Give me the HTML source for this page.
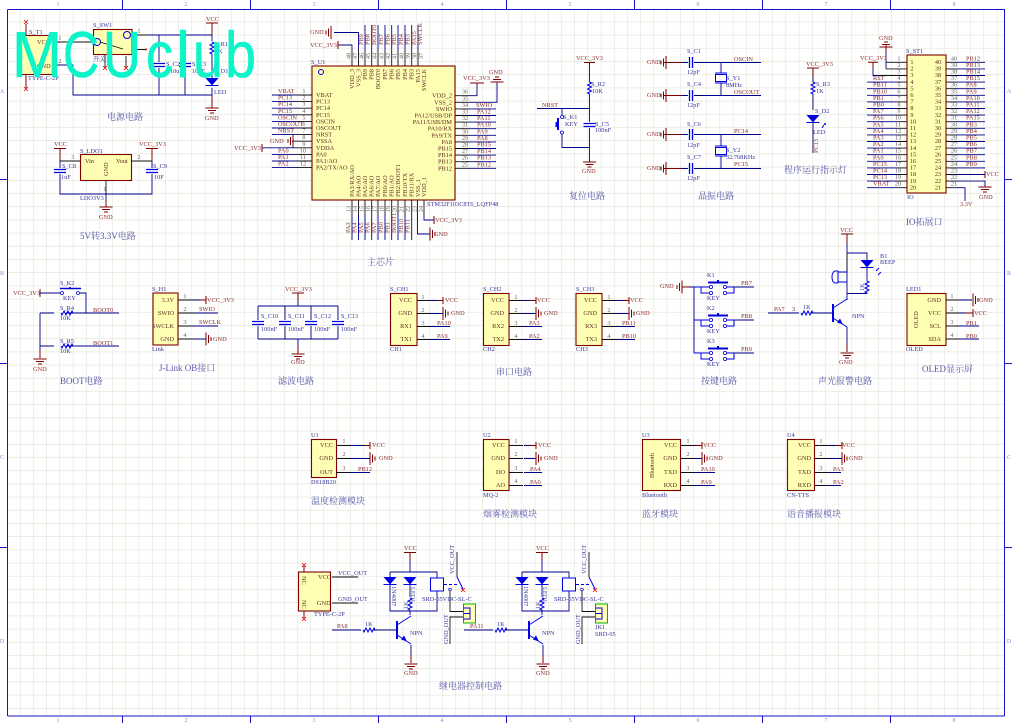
<!DOCTYPE html>
<html><head><meta charset="utf-8"><title>MCUclub schematic</title>
<style>
html,body{margin:0;padding:0;background:#fff}
svg{display:block;filter:blur(.3px)}
text{font-family:"Liberation Serif","Noto Serif CJK SC",serif;font-size:6.3px}
.n text,text.n{fill:#8a2c2c}
.d text,text.d{fill:#38389a}
.k text,text.k{fill:#5c2a20}
.u text{fill:#666;text-anchor:middle}
.t text{fill:#5656a8;font-size:9px}
.f text{fill:#8a8ad0;font-size:6px;text-anchor:middle}
.w{fill:none;stroke:#00008c;stroke-width:.9}
.p{fill:none;stroke:#111;stroke-width:.9}
.r{fill:none;stroke:#800000;stroke-width:1}
.b{fill:none;stroke:#0000e6;stroke-width:1}
.box{fill:#ffffb4;stroke:#800000;stroke-width:1.1}
</style></head><body>
<svg width="1012" height="723" viewBox="0 0 1012 723" xmlns="http://www.w3.org/2000/svg">
<defs>
<pattern id="g" x="7.3" y="9" width="13.2" height="13.2" patternUnits="userSpaceOnUse"><path d="M13.2 0V13.2M0 13.2H13.2" fill="none" stroke="#e2e2d6" stroke-width="1.1"/></pattern>
<path id="gd" class="r" d="M-6.5 0H6.5M-4 2.5H4M-2 5H2"/>
<path id="gu" class="r" d="M-6.5 0H6.5M-4 -2.5H4M-2 -5H2"/>
<path id="gl" class="r" d="M0 -6.5V6.5M-2.5 -4V4M-5 -2V2"/>
<path id="gr" class="r" d="M0 -6.5V6.5M2.5 -4V4M5 -2V2"/>
<path id="cv" class="b" style="stroke-width:1.3" d="M-6 -1.5H6M-6 1.5H6"/>
<path id="ch" class="b" style="stroke-width:1.3" d="M-1.5 -5.5V5.5M1.5 -5.5V5.5"/>
<path id="rv" class="b" d="M0 -6l2 1-4 2 4 2-4 2 4 2-4 2 2 1"/>
<path id="rh" class="b" d="M-6 0l1 2 2-4 2 4 2-4 2 4 2-4 1 2"/>
<g id="dd"><path d="M-6.5 0H6.5L0 7.5Z" fill="#0000e6"/><path class="b" d="M-6.5 7.5H6.5"/></g>
<g id="xt"><path class="b" d="M-5.5 -3.5H5.5V3.5H-5.5ZM-6 -5H6M-6 5H6"/></g>
<g id="npn"><path class="b" style="stroke-width:2" d="M0 -9V9"/><path class="b" d="M0 -5L14 -14M0 5L14 14"/><path d="M10 11.5L4 9.5 7 5.5Z" fill="#0000e6"/></g>
<g id="key"><path class="b" d="M0 0H17M7 0V6H17M31 0H40V6H31M40 0V6"/><path class="w" d="M40 0H60"/><circle cx="17" cy="0" r="1.6" fill="#fff" stroke="#00c" stroke-width=".8"/><circle cx="17" cy="6" r="1.6" fill="#fff" stroke="#00c" stroke-width=".8"/><circle cx="31" cy="0" r="1.6" fill="#fff" stroke="#00c" stroke-width=".8"/><circle cx="31" cy="6" r="1.6" fill="#fff" stroke="#00c" stroke-width=".8"/><path d="M14 -4.5H34" stroke="#0000d0" stroke-width="2"/><path d="M24 -7V-5" stroke="#0000d0" stroke-width="2"/></g>
<g id="rel">
<path class="r" d="M410 552.5H404M410 552.5H416M410 552V560"/>
<path class="w" d="M410 560V572M390 572H437V578M437 591V611H390V572M410 584V597M410 610V615M411 645V656M396 630H385"/>
<path class="r" d="M411 656V663"/>
<use href="#dd" x="390" y="577"/><use href="#dd" x="410" y="577"/><use href="#rv" x="410" y="604"/>
<rect x="430.500" y="578" width="13" height="13" fill="#fff" stroke="#0000e6" stroke-width="1"/>
<path class="b" stroke-dasharray="3 2" d="M444 584.500H458"/>
<path class="p" d="M457 552V577"/><path class="b" d="M457 577L463 589"/>
<circle cx="450" cy="589.500" r="1.300" fill="#fff" stroke="#00c" stroke-width=".7"/>
<path d="M461 588l4 4M465 588l-4 4" stroke="#e00" stroke-width=".8"/>
<path class="p" d="M450 591V611.500H463M450 644V617H463"/>
<rect x="463.500" y="604" width="12" height="19" fill="#ffffb4" stroke="#00b000" stroke-width="1"/>
<path class="b" d="M463.500 608H470V619H463.500M470 613.500H463.500"/>
<use href="#npn" x="397" y="630"/>
<use href="#gd" x="411" y="664"/>
</g>
</defs>

<rect width="1012" height="723" fill="#fff"/>
<rect x="7.3" y="9" width="997" height="707" fill="url(#g)"/>
<path d="M7.500 9.500H1004.500V716M7.500 9.500V716M0 179.500H7.500M0 363.500H7.500M0 547.500H7.500M1004.500 179.500H1012M1004.500 363.500H1012M1004.500 547.500H1012M122.500 0V9.500M250.500 0V9.500M378.500 0V9.500M506.500 0V9.500M634.500 0V9.500M762.500 0V9.500M890.500 0V9.500M122.500 716V723M250.500 716V723M378.500 716V723M506.500 716V723M634.500 716V723M762.500 716V723M890.500 716V723M7.500 716H1004.500" fill="none" stroke="#1414c8" stroke-width="1"/>
<g class="f">
<text x="58" y="6">1</text><text x="186" y="6">2</text><text x="314" y="6">3</text><text x="442" y="6">4</text><text x="570" y="6">5</text><text x="698" y="6">6</text><text x="826" y="6">7</text><text x="954" y="6">8</text>
<text x="58" y="722">1</text><text x="186" y="722">2</text><text x="314" y="722">3</text><text x="442" y="722">4</text><text x="570" y="722">5</text><text x="698" y="722">6</text><text x="826" y="722">7</text><text x="954" y="722">8</text>
<text x="2" y="93">A</text><text x="2" y="275">B</text><text x="2" y="459">C</text><text x="2" y="643">D</text>
<text x="1009" y="93">A</text><text x="1009" y="275">B</text><text x="1009" y="459">C</text><text x="1009" y="643">D</text>
</g>

<!-- POWER -->
<rect class="box" x="20.500" y="35.500" width="32.500" height="39"/>
<rect class="box" x="93.500" y="29.500" width="38.500" height="25"/>
<path class="p" d="M53 42H93M53 65H60M132 35H148M132 49.500H146M126 56V68M105 55V68"/>
<path class="w" d="M60 65H73V95H212M148 35H212M159 35V62M159 68V95M185 35V62M185 68V95M212 35V41M212 54V80M212 88V95"/>
<path class="r" d="M212 23V35M206 23H218M212 95V108M26 35V24M26 74V88"/>
<path d="M24 20l4 4M28 20l-4 4M24 87l4 4M28 87l-4 4M103 66l4 4M107 66l-4 4M124 66l4 4M128 66l-4 4" stroke="#e00" stroke-width=".8"/>
<circle cx="146" cy="49.500" r="1" fill="#e00"/>
<circle cx="127" cy="35" r="3.500" fill="none" stroke="#0000e6"/><circle cx="97" cy="42" r="3.500" fill="none" stroke="#0000e6"/>
<path class="p" d="M100 42L123 49"/>
<use href="#cv" x="159" y="65"/><use href="#cv" x="185" y="65"/><use href="#rv" x="212" y="48"/><use href="#dd" x="212" y="78"/><use href="#gd" x="212" y="108"/>
<g class="k"><text x="37" y="44">VCC</text><text x="37" y="68">GND</text></g>
<g class="d"><text x="29" y="34">S_T1</text><text x="28" y="80">TYPE-C-2P</text><text x="93" y="27">S_SW1</text><text x="93" y="61">开关</text><text x="166" y="66">S_C2</text><text x="170" y="73">10uF</text><text x="192" y="66">S_C3</text><text x="192" y="73">10uF</text><text x="214" y="46">S_R1</text><text x="215" y="53">1K</text><text x="214" y="73">S_D1</text><text x="214" y="94">LED</text></g>
<g class="n"><text x="206" y="21">VCC</text><text x="205" y="120">GND</text></g>
<g class="u"><text x="60" y="40">1</text><text x="60" y="63">2</text><text x="139" y="33">1</text></g>
<g class="t"><text x="107" y="120">电源电路</text><text x="80" y="239">5V转3.3V电路</text></g>

<!-- LDO -->
<rect class="box" x="80.500" y="154.500" width="51" height="26"/>
<path class="p" d="M60 161H80M131 161H152M106 180V194"/>
<path class="w" d="M60 161V168M60 174V194H152V174M152 161V168M106 194V200"/>
<path class="r" d="M60 148.500V161M54 148.500H66M152 148.500V161M146 148.500H158M106 200V207"/>
<use href="#cv" x="60" y="171"/><use href="#cv" x="152" y="171"/><use href="#gd" x="106" y="207"/>
<g class="k"><text x="85" y="163">Vin</text><text x="116" y="163">Vout</text><text transform="rotate(-90 108 176)" x="108" y="176">GND</text></g>
<g class="d"><text x="80" y="153">S_LDO1</text><text x="80" y="200">LDO3V3</text><text x="62" y="168">S_C8</text><text x="61" y="179">1uF</text><text x="153" y="168">S_C9</text><text x="154" y="179">10F</text></g>
<g class="n"><text x="54" y="146">VCC</text><text x="139" y="146">VCC_3V3</text><text x="99" y="219">GND</text><text x="234" y="150">VCC_3V3</text></g>
<g class="u"><text x="73" y="159">3</text><text x="139" y="159">2</text><text x="105" y="191">1</text></g>

<!-- MCU -->
<rect class="box" x="312" y="66" width="143" height="134"/>
<circle cx="321" cy="72" r="2.500" fill="none" stroke="#0000e6"/>
<path class="w" d="M272 95H296M272 101.600H296M272 108.200H296M272 114.800H296M272 121.400H296M272 128H296M272 134.600H296M292 141.200H296M262 147.800H296M272 154.400H296M272 161H296M272 167.600H296
M470 95.700H477V83M470 102.300H497V84M470 108.900H496M470 115.500H496M470 122.100H496M470 128.700H496M470 135.300H496M470 141.900H496M470 148.500H496M470 155.100H496M470 161.700H496M470 168.300H496
M338 45H352V50M334 32.500H358.500V50M365 25V50M371.700 25V50M378 25V50M385 25V50M391.700 25V50M398 25V50M405 25V50M411.700 25V50M418 25V50
M352 215V240M358.500 215V240M365 215V240M371.700 215V240M378 215V240M385 215V240M391.700 215V240M398 215V240M405 215V240M411.700 215V240M417.500 215V234H430M424 215V220H434"/>
<path class="p" d="M296 95H312M296 101.600H312M296 108.200H312M296 114.800H312M296 121.400H312M296 128H312M296 134.600H312M296 141.200H312M296 147.800H312M296 154.400H312M296 161H312M296 167.600H312
M455 95.700H470M455 102.300H470M455 108.900H470M455 115.500H470M455 122.100H470M455 128.700H470M455 135.300H470M455 141.900H470M455 148.500H470M455 155.100H470M455 161.700H470M455 168.300H470
M352 50V66M358.500 50V66M365 50V66M371.700 50V66M378 50V66M385 50V66M391.700 50V66M398 50V66M405 50V66M411.700 50V66M418 50V66
M352 200V215M358.500 200V215M365 200V215M371.700 200V215M378 200V215M385 200V215M391.700 200V215M398 200V215M405 200V215M411.700 200V215M417.500 200V215M424 200V215"/>
<path class="r" d="M262 144V152M338 41V49M434 216V224M470 83H484M477 83V84M497 84V82"/>
<use href="#gl" x="293" y="141"/><use href="#gl" x="331" y="32.500"/><use href="#gr" x="430" y="234"/><use href="#gu" x="497" y="82"/>
<g class="k">
<text x="316" y="97">VBAT</text><text x="316" y="103.600">PC13</text><text x="316" y="110.200">PC14</text><text x="316" y="116.800">PC15</text><text x="316" y="123.400">OSCIN</text><text x="316" y="130">OSCOUT</text><text x="316" y="136.600">NRST</text><text x="316" y="143.200">VSSA</text><text x="316" y="149.800">VDDA</text><text x="316" y="156.400">PA0</text><text x="316" y="163">PA1/AO</text><text x="316" y="169.600">PA2/TX/AO</text>
<g text-anchor="end"><text x="452" y="97.700">VDD_2</text><text x="452" y="104.300">VSS_2</text><text x="452" y="110.900">SWIO</text><text x="452" y="117.500">PA12/USB/DP</text><text x="452" y="124.100">PA11/USB/DM</text><text x="452" y="130.700">PA10/RX</text><text x="452" y="137.300">PA9/TX</text><text x="452" y="143.900">PA8</text><text x="452" y="150.500">PB15</text><text x="452" y="157.100">PB14</text><text x="452" y="163.700">PB13</text><text x="452" y="170.300">PB12</text>
<text transform="rotate(-90 354 69)" x="354" y="69">VDD_3</text><text transform="rotate(-90 360.500 69)" x="360.500" y="69">VSS_3</text><text transform="rotate(-90 367 69)" x="367" y="69">PB9</text><text transform="rotate(-90 373.700 69)" x="373.700" y="69">PB8</text><text transform="rotate(-90 380 69)" x="380" y="69">BOOT0</text><text transform="rotate(-90 387 69)" x="387" y="69">PB7</text><text transform="rotate(-90 393.700 69)" x="393.700" y="69">PB6</text><text transform="rotate(-90 400 69)" x="400" y="69">PB5</text><text transform="rotate(-90 407 69)" x="407" y="69">PB4</text><text transform="rotate(-90 413.700 69)" x="413.700" y="69">PB3</text><text transform="rotate(-90 420 69)" x="420" y="69">PA15</text><text transform="rotate(-90 426 69)" x="426" y="69">SWCLK</text></g>
<text transform="rotate(-90 354 197)" x="354" y="197">PA3/RX/AO</text><text transform="rotate(-90 360.500 197)" x="360.500" y="197">PA4/AO</text><text transform="rotate(-90 367 197)" x="367" y="197">PA5/AO</text><text transform="rotate(-90 373.700 197)" x="373.700" y="197">PA6/AO</text><text transform="rotate(-90 380 197)" x="380" y="197">PA7/AO</text><text transform="rotate(-90 387 197)" x="387" y="197">PB0/AO</text><text transform="rotate(-90 393.700 197)" x="393.700" y="197">PB1/AO</text><text transform="rotate(-90 400 197)" x="400" y="197">PB2/BOOT1</text><text transform="rotate(-90 407 197)" x="407" y="197">PB10/TX</text><text transform="rotate(-90 413.700 197)" x="413.700" y="197">PB11/RX</text><text transform="rotate(-90 420 197)" x="420" y="197">VSS_1</text><text transform="rotate(-90 426 197)" x="426" y="197">VDD_1</text>
</g>
<g class="u">
<text x="304" y="93">1</text><text x="304" y="99.600">2</text><text x="304" y="106.200">3</text><text x="304" y="112.800">4</text><text x="304" y="119.400">5</text><text x="304" y="126">6</text><text x="304" y="132.600">7</text><text x="304" y="139.200">8</text><text x="304" y="145.800">9</text><text x="303" y="152.400">10</text><text x="303" y="159">11</text><text x="303" y="165.600">12</text>
<text x="465" y="93.700">36</text><text x="465" y="100.300">35</text><text x="465" y="106.900">34</text><text x="465" y="113.500">33</text><text x="465" y="120.100">32</text><text x="465" y="126.700">31</text><text x="465" y="133.300">30</text><text x="465" y="139.900">29</text><text x="465" y="146.500">28</text><text x="465" y="153.100">27</text><text x="465" y="159.700">26</text><text x="465" y="166.300">25</text>
<text transform="rotate(-90 350.500 56)" x="350.500" y="56">48</text><text transform="rotate(-90 357 56)" x="357" y="56">47</text><text transform="rotate(-90 363.500 56)" x="363.500" y="56">46</text><text transform="rotate(-90 370 56)" x="370" y="56">45</text><text transform="rotate(-90 376.500 56)" x="376.500" y="56">44</text><text transform="rotate(-90 383.500 56)" x="383.500" y="56">43</text><text transform="rotate(-90 390 56)" x="390" y="56">42</text><text transform="rotate(-90 396.500 56)" x="396.500" y="56">41</text><text transform="rotate(-90 403.500 56)" x="403.500" y="56">40</text><text transform="rotate(-90 410 56)" x="410" y="56">39</text><text transform="rotate(-90 416.500 56)" x="416.500" y="56">38</text><text transform="rotate(-90 423 56)" x="423" y="56">37</text>
<text transform="rotate(-90 350.500 209)" x="350.500" y="209">13</text><text transform="rotate(-90 357 209)" x="357" y="209">14</text><text transform="rotate(-90 363.500 209)" x="363.500" y="209">15</text><text transform="rotate(-90 370 209)" x="370" y="209">16</text><text transform="rotate(-90 376.500 209)" x="376.500" y="209">17</text><text transform="rotate(-90 383.500 209)" x="383.500" y="209">18</text><text transform="rotate(-90 390 209)" x="390" y="209">19</text><text transform="rotate(-90 396.500 209)" x="396.500" y="209">20</text><text transform="rotate(-90 403.500 209)" x="403.500" y="209">21</text><text transform="rotate(-90 410 209)" x="410" y="209">22</text><text transform="rotate(-90 416.500 209)" x="416.500" y="209">23</text><text transform="rotate(-90 423 209)" x="423" y="209">24</text>
</g>
<g class="n">
<text x="278" y="93">VBAT</text><text x="278" y="99.600">PC13</text><text x="278" y="106.200">PC14</text><text x="278" y="112.800">PC15</text><text x="278" y="119.400">OSCIN</text><text x="278" y="126">OSCOUT</text><text x="278" y="132.600">NRST</text><text x="270" y="143">GND</text><text x="278" y="152.400">PA0</text><text x="278" y="159">PA1</text><text x="278" y="165.600">PA2</text>
<text x="476" y="106.900">SWIO</text><text x="477" y="113.500">PA12</text><text x="477" y="120.100">PA11</text><text x="477" y="126.700">PA10</text><text x="477" y="133.300">PA9</text><text x="477" y="139.900">PA8</text><text x="477" y="146.500">PB15</text><text x="477" y="153.100">PB14</text><text x="477" y="159.700">PB13</text><text x="477" y="166.300">PB12</text>
<text x="463" y="80">VCC_3V3</text><text x="489" y="74">GND</text><text x="310" y="34">GND</text><text x="310" y="47">VCC_3V3</text><text x="435" y="222">VCC_3V3</text><text x="434" y="236">GND</text>
<text transform="rotate(-90 363 45)" x="363" y="45">PB9</text><text transform="rotate(-90 369.700 45)" x="369.700" y="45">PB8</text><text transform="rotate(-90 376 45)" x="376" y="45">BOOT0</text><text transform="rotate(-90 383 45)" x="383" y="45">PB7</text><text transform="rotate(-90 389.700 45)" x="389.700" y="45">PB6</text><text transform="rotate(-90 396 45)" x="396" y="45">PB5</text><text transform="rotate(-90 403 45)" x="403" y="45">PB4</text><text transform="rotate(-90 409.700 45)" x="409.700" y="45">PB3</text><text transform="rotate(-90 416 45)" x="416" y="45">PA15</text><text transform="rotate(-90 422 45)" x="422" y="45">SWCLK</text>
<text transform="rotate(-90 350 233)" x="350" y="233">PA3</text><text transform="rotate(-90 356.500 233)" x="356.500" y="233">PA4</text><text transform="rotate(-90 363 233)" x="363" y="233">PA5</text><text transform="rotate(-90 369.700 233)" x="369.700" y="233">PA6</text><text transform="rotate(-90 376 233)" x="376" y="233">PA7</text><text transform="rotate(-90 383 233)" x="383" y="233">PB0</text><text transform="rotate(-90 389.700 233)" x="389.700" y="233">PB1</text><text transform="rotate(-90 396 233)" x="396" y="233">BOOT1</text><text transform="rotate(-90 403 233)" x="403" y="233">PB10</text><text transform="rotate(-90 409.700 233)" x="409.700" y="233">PB11</text>
</g>
<g class="d"><text x="311" y="64">S_U1</text><text x="427" y="206">STM32F103C8T6_LQFP48</text></g>
<g class="t"><text x="367" y="265">主芯片</text></g>

<!-- RESET -->
<path class="r" d="M584 62.500H595M589.500 62.500V72M589.500 152V162"/>
<path class="w" d="M589.500 72V82M589.500 94V122M589.500 128V152M537 108.500H589.500M562 108.500V115M562 134V147.500H589.500"/>
<path class="b" style="stroke-width:2" d="M558 118V130M556.500 122V127"/>
<circle cx="562" cy="117" r="1.500" fill="#fff" stroke="#00c" stroke-width=".8"/><circle cx="562" cy="132.500" r="1.500" fill="#fff" stroke="#00c" stroke-width=".8"/>
<use href="#rv" x="589.500" y="88"/><use href="#cv" x="589.500" y="125"/><use href="#gd" x="589.500" y="162"/>
<g class="n"><text x="576" y="60">VCC_3V3</text><text x="542" y="107">NRST</text><text x="582" y="173">GND</text></g>
<g class="d"><text x="591" y="86">S_R2</text><text x="592" y="93">10K</text><text x="563" y="119">S_K1</text><text x="565" y="126">KEY</text><text x="595" y="126">S_C5</text><text x="595" y="132">100nF</text></g>
<g class="t"><text x="569" y="199">复位电路</text></g>

<!-- CRYSTAL -->
<path class="r" d="M664 62.500H682M664 95.500H682M664 134.500H682M664 168.500H682"/>
<path class="w" d="M682 62.500H688M694 62.500H761M682 95.500H688M694 95.500H761M682 134.500H688M694 134.500H761M682 168.500H688M694 168.500H761M721 62.500V73M721 83V95.500M721 134.500V146M721 156V168.500"/>
<use href="#ch" x="691" y="62.500"/><use href="#ch" x="691" y="95.500"/><use href="#ch" x="691" y="134.500"/><use href="#ch" x="691" y="168.500"/>
<use href="#gl" x="666" y="62.500"/><use href="#gl" x="666" y="95.500"/><use href="#gl" x="666" y="134.500"/><use href="#gl" x="666" y="168.500"/>
<use href="#xt" x="721" y="78"/><use href="#xt" x="721" y="151"/>
<g class="n"><text x="647" y="64">GND</text><text x="647" y="97">GND</text><text x="647" y="136">GND</text><text x="647" y="170">GND</text><text x="734" y="61">OSCIN</text><text x="734" y="94">OSCOUT</text><text x="734" y="133">PC14</text><text x="734" y="166">PC15</text></g>
<g class="d"><text x="687" y="53">S_C1</text><text x="687" y="74">12pF</text><text x="687" y="86">S_C4</text><text x="687" y="107">12pF</text><text x="687" y="126">S_C6</text><text x="687" y="147">12pF</text><text x="687" y="159">S_C7</text><text x="687" y="180">12pF</text><text x="726" y="80">S_Y1</text><text x="726" y="87">8MHz</text><text x="726" y="152">S_Y2</text><text x="726" y="159">32.768KHz</text></g>
<g class="t"><text x="698" y="199">晶振电路</text></g>

<!-- LED -->
<path class="r" d="M807 68H819M813 68V78"/>
<path class="w" d="M813 78V82M813 94V110M813 118V153"/>
<use href="#rv" x="813" y="88"/><use href="#dd" x="813" y="115"/>
<path class="b" d="M824 125l-2 3"/><circle cx="825" cy="124" r="1" fill="#00c"/>
<text class="n" x="806" y="66">VCC_3V3</text>
<g class="d"><text x="816" y="86">S_R3</text><text x="816" y="93">1K</text><text x="815" y="113">S_D2</text><text x="813" y="134">LED</text></g>
<text class="n" transform="rotate(-90 818 153)" x="818" y="153">PC13</text>
<g class="t"><text x="784" y="173">程序运行指示灯</text></g>

<!-- IO -->
<rect class="box" x="907" y="55" width="39" height="138"/>
<path class="p" d="M886 62.300H907M886 68.900H907M880 75.500H907M897 82.100H907M897 88.700H907M897 95.300H907M897 101.900H907M897 108.500H907M897 115.100H907M897 121.700H907M897 128.300H907M897 134.900H907M897 141.500H907M897 148.100H907M897 154.700H907M897 161.300H907M897 167.900H907M897 174.500H907M897 181.100H907M897 187.700H907
M946 62.300H956M946 68.900H956M946 75.500H956M946 82.100H956M946 88.700H956M946 95.300H956M946 101.900H956M946 108.500H956M946 115.100H956M946 121.700H956M946 128.300H956M946 134.900H956M946 141.500H956M946 148.100H956M946 154.700H956M946 161.300H956M946 167.900H956M946 174.500H956M946 181.100H956M946 187.700H956"/>
<path class="w" d="M886 52V68.900M873 68V75.500H880M867 82.100H897M867 88.700H897M867 95.300H897M867 101.900H897M867 108.500H897M867 115.100H897M867 121.700H897M867 128.300H897M867 134.900H897M867 141.500H897M867 148.100H897M867 154.700H897M867 161.300H897M867 167.900H897M867 174.500H897M867 181.100H897M867 187.700H897
M956 62.300H985M956 68.900H985M956 75.500H985M956 82.100H985M956 88.700H985M956 95.300H985M956 101.900H985M956 108.500H985M956 115.100H985M956 121.700H985M956 128.300H985M956 134.900H985M956 141.500H985M956 148.100H985M956 154.700H985M956 161.300H985M956 167.900H985M956 174.500H985M956 181.100H985V186M956 187.700H965V201"/>
<path class="r" d="M886 44V52M868 62.300H878M873 62.300V68M985 171V178M985 186V187"/>
<use href="#gu" x="886" y="47"/><use href="#gd" x="985" y="187"/>
<g class="u">
<text x="899" y="60.300">1</text><text x="899" y="66.900">2</text><text x="899" y="73.500">3</text><text x="899" y="80.100">4</text><text x="899" y="86.700">5</text><text x="899" y="93.300">6</text><text x="899" y="99.900">7</text><text x="899" y="106.500">8</text><text x="899" y="113.100">9</text><text x="898" y="119.700">10</text><text x="898" y="126.300">11</text><text x="898" y="132.900">12</text><text x="898" y="139.500">13</text><text x="898" y="146.100">14</text><text x="898" y="152.700">15</text><text x="898" y="159.300">16</text><text x="898" y="165.900">17</text><text x="898" y="172.500">18</text><text x="898" y="179.100">19</text><text x="898" y="185.700">20</text>
<text x="954" y="60.300">40</text><text x="954" y="66.900">39</text><text x="954" y="73.500">38</text><text x="954" y="80.100">37</text><text x="954" y="86.700">36</text><text x="954" y="93.300">35</text><text x="954" y="99.900">34</text><text x="954" y="106.500">33</text><text x="954" y="113.100">32</text><text x="954" y="119.700">31</text><text x="954" y="126.300">30</text><text x="954" y="132.900">29</text><text x="954" y="139.500">28</text><text x="954" y="146.100">27</text><text x="954" y="152.700">26</text><text x="954" y="159.300">25</text><text x="954" y="165.900">24</text><text x="954" y="172.500">23</text><text x="954" y="179.100">22</text><text x="954" y="185.700">21</text>
</g>
<g class="k" text-anchor="middle">
<text x="912" y="64">1</text><text x="912" y="70.600">2</text><text x="912" y="77.200">3</text><text x="912" y="83.800">4</text><text x="912" y="90.400">5</text><text x="912" y="97">6</text><text x="912" y="103.600">7</text><text x="912" y="110.200">8</text><text x="912" y="116.800">9</text><text x="913" y="123.400">10</text><text x="913" y="130">11</text><text x="913" y="136.600">12</text><text x="913" y="143.200">13</text><text x="913" y="149.800">14</text><text x="913" y="156.400">15</text><text x="913" y="163">16</text><text x="913" y="169.600">17</text><text x="913" y="176.200">18</text><text x="913" y="182.800">19</text><text x="913" y="189.400">20</text>
<text x="938" y="64">40</text><text x="938" y="70.600">39</text><text x="938" y="77.200">38</text><text x="938" y="83.800">37</text><text x="938" y="90.400">36</text><text x="938" y="97">35</text><text x="938" y="103.600">34</text><text x="938" y="110.200">33</text><text x="938" y="116.800">32</text><text x="938" y="123.400">31</text><text x="938" y="130">30</text><text x="938" y="136.600">29</text><text x="938" y="143.200">28</text><text x="938" y="149.800">27</text><text x="938" y="156.400">26</text><text x="938" y="163">25</text><text x="938" y="169.600">24</text><text x="938" y="176.200">23</text><text x="938" y="182.800">22</text><text x="938" y="189.400">21</text>
</g>
<g class="n">
<text x="879" y="40">GND</text><text x="860" y="60">VCC_3V3</text><text x="873" y="80.100">RST</text><text x="873" y="86.700">PB11</text><text x="873" y="93.300">PB10</text><text x="873" y="99.900">PB1</text><text x="873" y="106.500">PB0</text><text x="873" y="113.100">PA7</text><text x="873" y="119.700">PA6</text><text x="873" y="126.300">PA5</text><text x="873" y="132.900">PA4</text><text x="873" y="139.500">PA3</text><text x="873" y="146.100">PA2</text><text x="873" y="152.700">PA1</text><text x="873" y="159.300">PA0</text><text x="873" y="165.900">PC15</text><text x="873" y="172.500">PC14</text><text x="873" y="179.100">PC13</text><text x="873" y="185.700">VBAT</text>
<text x="966" y="60.300">PB12</text><text x="966" y="66.900">PB13</text><text x="966" y="73.500">PB14</text><text x="966" y="80.100">PB15</text><text x="966" y="86.700">PA8</text><text x="966" y="93.300">PA9</text><text x="966" y="99.900">PA10</text><text x="966" y="106.500">PA11</text><text x="966" y="113.100">PA12</text><text x="966" y="119.700">PA15</text><text x="966" y="126.300">PB3</text><text x="966" y="132.900">PB4</text><text x="966" y="139.500">PB5</text><text x="966" y="146.100">PB6</text><text x="966" y="152.700">PB7</text><text x="966" y="159.300">PB8</text><text x="966" y="165.900">PB9</text>
<text x="986" y="176">VCC</text><text x="979" y="199">GND</text><text x="960" y="206">3.3V</text>
</g>
<g class="d"><text x="906" y="53">S_ST1</text><text x="907" y="199">IO</text></g>
<g class="t"><text x="906" y="225">IO拓展口</text></g>

<!-- BOOT -->
<path class="r" d="M40 289V297"/>
<path class="w" d="M40 293H60M80 293H86V313M40 313H54M66 313H119M40 313V350M40 346H54M66 346H119"/>
<path class="r" d="M40 350V358"/>
<circle cx="62" cy="293" r="1.500" fill="#fff" stroke="#00c" stroke-width=".8"/><circle cx="78" cy="293" r="1.500" fill="#fff" stroke="#00c" stroke-width=".8"/>
<path d="M60 288.500H81M70 287V289" stroke="#0000d0" stroke-width="1.500" fill="none"/>
<use href="#rh" x="67" y="313"/><use href="#rh" x="67" y="346"/><use href="#gd" x="40" y="359"/>
<g class="n"><text x="13" y="295">VCC_3V3</text><text x="93" y="312">BOOT0</text><text x="93" y="345">BOOT1</text><text x="33" y="371">GND</text></g>
<g class="d"><text x="60" y="285">S_K2</text><text x="63" y="300">KEY</text><text x="60" y="310">S_R4</text><text x="60" y="320">10K</text><text x="60" y="343">S_R5</text><text x="60" y="353">10K</text></g>
<g class="t"><text x="60" y="384">BOOT电路</text></g>

<!-- JLINK -->
<rect class="box" x="153" y="293" width="25" height="52"/>
<path class="p" d="M178 300H194M178 313H194M178 326H194M178 339H194"/>
<path class="w" d="M194 300H200M194 313H218M194 326H218M194 339H206"/>
<path class="r" d="M200 300H206M206 296V304"/>
<use href="#gr" x="206" y="339"/>
<g class="k" text-anchor="end"><text x="174" y="302">3.3V</text><text x="174" y="315">SWIO</text><text x="174" y="328">SWCLK</text><text x="174" y="341">GND</text></g>
<g class="u"><text x="185" y="298">1</text><text x="185" y="311">2</text><text x="185" y="324">3</text><text x="185" y="337">4</text></g>
<g class="n"><text x="207" y="302">VCC_3V3</text><text x="199" y="311">SWIO</text><text x="199" y="324">SWCLK</text><text x="213" y="341">GND</text></g>
<g class="d"><text x="152" y="291">S_H1</text><text x="152" y="351">Link</text></g>
<g class="t"><text x="159" y="371">J-Link OB接口</text></g>

<!-- FILTER -->
<path class="r" d="M292 293H304M298 293V300M298 346V354"/>
<path class="w" d="M298 300V306M258 306H338M258 306V320M285 306V320M311 306V320M338 306V320M258 326V339M285 326V339M311 326V339M338 326V339M258 339H338M298 339V346"/>
<use href="#cv" x="258" y="323"/><use href="#cv" x="285" y="323"/><use href="#cv" x="311" y="323"/><use href="#cv" x="338" y="323"/><use href="#gd" x="298" y="354"/>
<g class="n"><text x="285" y="291">VCC_3V3</text><text x="291" y="364">GND</text></g>
<g class="d"><text x="261" y="318">S_C10</text><text x="261" y="331">100nF</text><text x="288" y="318">S_C11</text><text x="288" y="331">100nF</text><text x="314" y="318">S_C12</text><text x="314" y="331">100nF</text><text x="341" y="318">S_C13</text><text x="341" y="331">100nF</text></g>
<g class="t"><text x="278" y="384">滤波电路</text></g>

<!-- UARTS -->
<rect class="box" x="390.500" y="293.500" width="26.500" height="52"/><rect class="box" x="483.500" y="293.500" width="25.500" height="52"/><rect class="box" x="576" y="293.500" width="26" height="52"/>
<path class="p" d="M417 300.500H430M417 313.500H430M417 326.500H430M417 339.500H430M509 300.500H522M509 313.500H522M509 326.500H522M509 339.500H522M602 300.500H615M602 313.500H615M602 326.500H615M602 339.500H615"/>
<path class="w" d="M430 300.500H437M430 313.500H443M430 326.500H450M430 339.500H450M522 300.500H530M522 313.500H536M522 326.500H542M522 339.500H542M615 300.500H623M615 313.500H629M615 326.500H635M615 339.500H635"/>
<path class="r" d="M437 300.500H443M443 297V304M530 300.500H536M536 297V304M623 300.500H629M629 297V304"/>
<use href="#gr" x="443" y="313.500"/><use href="#gr" x="536" y="313.500"/><use href="#gr" x="629" y="313.500"/>
<g class="k" text-anchor="end"><text x="412" y="302">VCC</text><text x="412" y="315">GND</text><text x="412" y="328">RX1</text><text x="412" y="341">TX1</text><text x="504" y="302">VCC</text><text x="504" y="315">GND</text><text x="504" y="328">RX2</text><text x="504" y="341">TX2</text><text x="597" y="302">VCC</text><text x="597" y="315">GND</text><text x="597" y="328">RX3</text><text x="597" y="341">TX3</text></g>
<g class="u"><text x="423" y="299">1</text><text x="423" y="312">2</text><text x="423" y="325">3</text><text x="423" y="338">4</text><text x="516" y="299">1</text><text x="516" y="312">2</text><text x="516" y="325">3</text><text x="516" y="338">4</text><text x="609" y="299">1</text><text x="609" y="312">2</text><text x="609" y="325">3</text><text x="609" y="338">4</text></g>
<g class="n"><text x="445" y="302">VCC</text><text x="451" y="315">GND</text><text x="437" y="325">PA10</text><text x="437" y="338">PA9</text><text x="537" y="302">VCC</text><text x="544" y="315">GND</text><text x="529" y="325">PA3</text><text x="529" y="338">PA2</text><text x="630" y="302">VCC</text><text x="636" y="315">GND</text><text x="622" y="325">PB11</text><text x="622" y="338">PB10</text></g>
<g class="d"><text x="390" y="291">S_CH1</text><text x="390" y="351">CH1</text><text x="483" y="291">S_CH2</text><text x="483" y="351">CH2</text><text x="576" y="291">S_CH3</text><text x="576" y="351">CH3</text></g>
<g class="t"><text x="496" y="375">串口电路</text></g>

<!-- KEYS -->
<path class="r" d="M682 287H689"/><path class="w" d="M689 287H694M694 287V353"/>
<use href="#gl" x="682" y="287"/>
<use href="#key" x="694" y="287"/><use href="#key" x="694" y="320"/><use href="#key" x="694" y="353"/>
<g class="n"><text x="660" y="288">GND</text><text x="741" y="285">PB7</text><text x="741" y="318">PB8</text><text x="741" y="351">PB9</text></g>
<g class="d"><text x="707" y="277">K1</text><text x="707" y="300">KEY</text><text x="707" y="310">K2</text><text x="707" y="333">KEY</text><text x="707" y="343">K3</text><text x="707" y="366">KEY</text></g>
<g class="t"><text x="701" y="384">按键电路</text></g>

<!-- BEEP -->
<path class="r" d="M841 234H853M847 234V243M847 343V352"/>
<path class="w" d="M847 243V300M847 253H867V260M867 267V281M867 293V293.500H847M847 327V343M768 313H799M811 313H833"/>
<path class="p" d="M847 253V272"/>
<path class="b" d="M838 271V283M838 271H835Q832 272 832 277T835 283H838M838 272H847M838 282H847"/>
<use href="#dd" x="867" y="260"/><use href="#rv" x="867" y="287"/><use href="#rh" x="807" y="313"/><use href="#npn" x="833" y="313"/><use href="#gd" x="847" y="353"/>
<path class="b" d="M879 268l-3 3M881 272l-3 3"/>
<g class="n"><text x="840" y="232">VCC</text><text x="774" y="311">PA7</text><text x="839" y="364">GND</text></g>
<text class="k" x="792" y="311">3</text>
<g class="d"><text x="803" y="309">1K</text><text x="880" y="258">B1</text><text x="880" y="264">BEEP</text><text x="852" y="318">NPN</text><text transform="rotate(-90 864 291)" x="864" y="291">1K</text></g>
<g class="t"><text x="818" y="384">声光报警电路</text></g>

<!-- OLED -->
<rect class="box" x="907" y="293.500" width="39" height="52"/>
<path class="p" d="M946 300H960M946 313H960M946 326H960M946 339H960"/>
<path class="w" d="M960 300H972M960 313H966M960 326H979M960 339H979"/>
<path class="r" d="M966 313H973M973 309V317"/>
<use href="#gr" x="973" y="300"/>
<g class="k" text-anchor="end"><text x="941" y="302">GND</text><text x="941" y="315">VCC</text><text x="941" y="328">SCL</text><text x="941" y="341">SDA</text></g>
<text class="k" transform="rotate(-90 918 328)" x="918" y="328">OLED</text>
<g class="u"><text x="952" y="298">1</text><text x="952" y="311">2</text><text x="952" y="324">3</text><text x="952" y="337">4</text></g>
<g class="n"><text x="979" y="302">GND</text><text x="974" y="315">VCC</text><text x="966" y="325">PB1</text><text x="966" y="338">PB0</text></g>
<g class="d"><text x="906" y="291">LED1</text><text x="906" y="351">OLED</text></g>
<g class="t"><text x="922" y="372">OLED显示屏</text></g>

<!-- MODULES -->
<rect class="box" x="311.500" y="439.500" width="25" height="38"/><rect class="box" x="483.500" y="439.500" width="25.500" height="51"/><rect class="box" x="642.500" y="439.500" width="38" height="51"/><rect class="box" x="787.500" y="439.500" width="27" height="51"/>
<path class="p" d="M336 445.500H350M336 458.500H350M336 472.500H350M509 445.500H523M509 458.500H523M509 472.500H523M509 485.500H523M680 445.500H694M680 458.500H694M680 472.500H694M680 485.500H694M815 445.500H828M815 458.500H828M815 472.500H828M815 485.500H828"/>
<path class="w" d="M350 445.500H364M350 458.500H370M350 472.500H370M524 445.500H530M524 458.500H536M524 472.500H542M524 485.500H542M694 445.500H696M694 458.500H702M694 472.500H715M694 485.500H715M828 445.500H836M828 458.500H842M828 472.500H841M828 485.500H841"/>
<path class="r" d="M364 445.500H370M370 442V449M530 445.500H536M536 442V449M696 445.500H702M702 442V449M836 445.500H842M842 442V449"/>
<use href="#gr" x="370" y="458.500"/><use href="#gr" x="536" y="458.500"/><use href="#gr" x="702" y="458.500"/><use href="#gr" x="842" y="458.500"/>
<g class="k" text-anchor="end"><text x="333" y="447">VCC</text><text x="333" y="460">GND</text><text x="333" y="474">OUT</text><text x="505" y="447">VCC</text><text x="505" y="460">GND</text><text x="505" y="474">DO</text><text x="505" y="487">AO</text><text x="677" y="447">VCC</text><text x="677" y="460">GND</text><text x="677" y="474">TXD</text><text x="677" y="487">RXD</text><text x="811" y="447">VCC</text><text x="811" y="460">GND</text><text x="811" y="474">TXD</text><text x="811" y="487">RXD</text></g>
<text class="k" transform="rotate(-90 654 478)" x="654" y="478">Bluetooth</text>
<g class="u"><text x="344" y="443">1</text><text x="344" y="456">2</text><text x="344" y="470">3</text><text x="516" y="443">1</text><text x="516" y="456">2</text><text x="516" y="470">3</text><text x="516" y="483">4</text><text x="688" y="443">1</text><text x="688" y="456">2</text><text x="688" y="470">3</text><text x="688" y="483">4</text><text x="821" y="443">1</text><text x="821" y="456">2</text><text x="821" y="470">3</text><text x="821" y="483">4</text></g>
<g class="n"><text x="372" y="447">VCC</text><text x="379" y="460">GND</text><text x="358" y="471">PB12</text><text x="538" y="447">VCC</text><text x="544" y="460">GND</text><text x="530" y="471">PA4</text><text x="530" y="484">PA0</text><text x="703" y="447">VCC</text><text x="709" y="460">GND</text><text x="701" y="471">PA10</text><text x="701" y="484">PA9</text><text x="842" y="447">VCC</text><text x="849" y="460">GND</text><text x="833" y="471">PA3</text><text x="833" y="484">PA2</text></g>
<g class="d"><text x="311" y="437">U1</text><text x="311" y="484">DS18B20</text><text x="483" y="437">U2</text><text x="483" y="497">MQ-2</text><text x="642" y="437">U3</text><text x="642" y="497">Bluetooth</text><text x="787" y="437">U4</text><text x="787" y="497">CN-TTS</text></g>
<g class="t"><text x="311" y="504">温度检测模块</text><text x="483" y="517">烟雾检测模块</text><text x="642" y="517">蓝牙模块</text><text x="787" y="517">语音播报模块</text></g>

<!-- RELAY -->
<rect class="box" x="298.500" y="572" width="32" height="39"/>
<path d="M304 572V566M304 611V618" class="r"/>
<path d="M302 563l4 4M306 563l-4 4M302 617l4 4M306 617l-4 4" stroke="#e00" stroke-width=".8"/>
<path class="p" d="M332 577H358M332 603H358"/>
<path class="w" d="M332 630H361M373 630H385M464 630H493M505 630H517"/>
<use href="#rh" x="369" y="630"/><use href="#rh" x="501" y="630"/>
<use href="#rel"/><use href="#rel" x="132"/>
<g class="k"><text x="318" y="579">VCC</text><text x="317" y="605">GND</text><text transform="rotate(90 302 576)" x="302" y="576">NC</text><text transform="rotate(90 302 600)" x="302" y="600">NC</text></g>
<g class="d"><text x="314" y="616">TYPE-C-2P</text><text x="338" y="575">VCC_OUT</text><text x="338" y="601">GND_OUT</text><text x="365" y="626">1K</text><text x="497" y="626">1K</text><text x="410" y="635">NPN</text><text x="542" y="635">NPN</text><text x="422" y="601">SRD-05VDC-SL-C</text><text x="554" y="601">SRD-05VDC-SL-C</text><text x="595" y="629">JK1</text><text x="595" y="636">SRD-05</text>
<text transform="rotate(-90 454 574)" x="454" y="574">VCC_OUT</text><text transform="rotate(-90 586 574)" x="586" y="574">VCC_OUT</text><text transform="rotate(-90 448 644)" x="448" y="644">GND_OUT</text><text transform="rotate(-90 580 644)" x="580" y="644">GND_OUT</text>
<text transform="rotate(90 392 586)" x="392" y="586">1N4007</text><text transform="rotate(90 524 586)" x="524" y="586">1N4007</text><text transform="rotate(90 411 587)" x="411" y="587">LED1</text><text transform="rotate(90 543 587)" x="543" y="587">LED1</text><text transform="rotate(-90 408 609)" x="408" y="609">1K</text><text transform="rotate(-90 540 609)" x="540" y="609">1K</text></g>
<g class="n"><text x="404" y="550">VCC</text><text x="536" y="550">VCC</text><text x="404" y="675">GND</text><text x="536" y="675">GND</text><text x="337" y="628">PA8</text><text x="470" y="628">PA11</text></g>
<g class="t"><text x="439" y="689">继电器控制电路</text></g>

<!-- WATERMARK -->
<text y="77" style="font-family:'Liberation Sans',sans-serif;font-size:65px;fill:#0cf4c8;stroke:#0cf4c8;stroke-width:.6;stroke-linejoin:round"><tspan x="12" textLength="50" lengthAdjust="spacingAndGlyphs">M</tspan><tspan x="63" textLength="36" lengthAdjust="spacingAndGlyphs">C</tspan><tspan x="103" textLength="38" lengthAdjust="spacingAndGlyphs">U</tspan><tspan x="146" textLength="27" lengthAdjust="spacingAndGlyphs">c</tspan><tspan x="176" textLength="14" lengthAdjust="spacingAndGlyphs">l</tspan><tspan x="193" textLength="30" lengthAdjust="spacingAndGlyphs">u</tspan><tspan x="225" textLength="31" lengthAdjust="spacingAndGlyphs">b</tspan></text>
</svg>
</body></html>
